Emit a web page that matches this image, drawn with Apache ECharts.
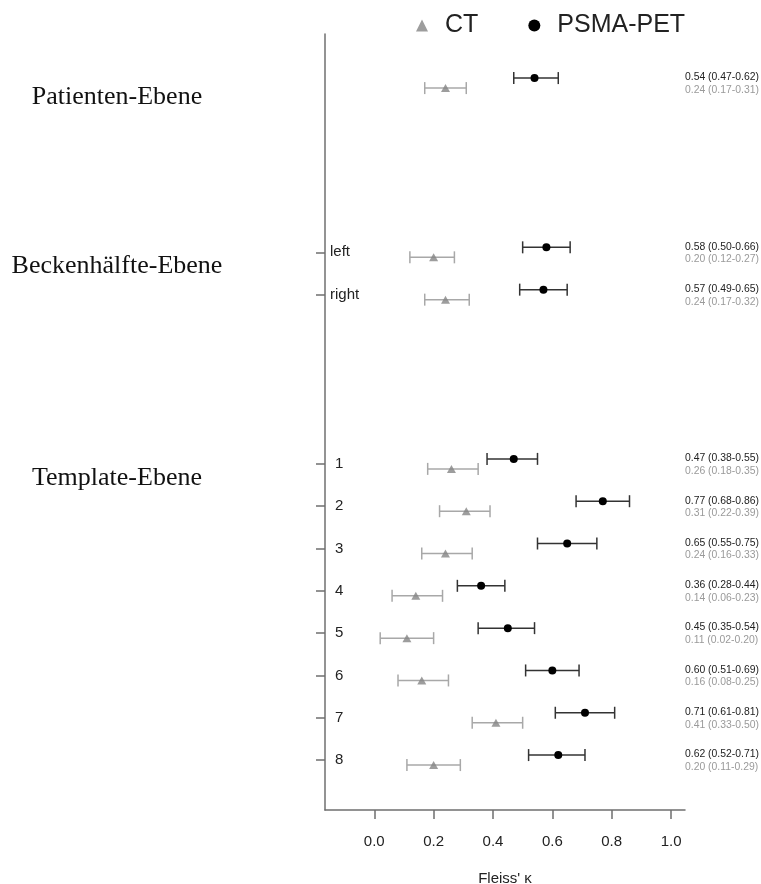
<!DOCTYPE html>
<html>
<head>
<meta charset="utf-8">
<script src="https://cdn.jsdelivr.net/npm/echarts@6/dist/echarts.min.js"></script>
<style>
html,body{margin:0;padding:0;background:#fff;}
#chart{width:761px;height:884px;}
</style>
</head>
<body>
<div id="chart"></div>
<script>
// ---- data ----
const categories = ['', 'left', 'right', '1', '2', '3', '4', '5', '6', '7', '8'];
const groups = ['Patienten-Ebene', 'Beckenhälfte-Ebene', 'Template-Ebene'];
const groupOf = [0, 1, 1, 2, 2, 2, 2, 2, 2, 2, 2];
const psmaKappa = [0.54, 0.58, 0.57, 0.47, 0.77, 0.65, 0.36, 0.45, 0.60, 0.71, 0.62];
const psmaLow   = [0.47, 0.50, 0.49, 0.38, 0.68, 0.55, 0.28, 0.35, 0.51, 0.61, 0.52];
const psmaHigh  = [0.62, 0.66, 0.65, 0.55, 0.86, 0.75, 0.44, 0.54, 0.69, 0.81, 0.71];
const ctKappa   = [0.24, 0.20, 0.24, 0.26, 0.31, 0.24, 0.14, 0.11, 0.16, 0.41, 0.20];
const ctLow     = [0.17, 0.12, 0.17, 0.18, 0.22, 0.16, 0.06, 0.02, 0.08, 0.33, 0.11];
const ctHigh    = [0.31, 0.27, 0.32, 0.35, 0.39, 0.33, 0.23, 0.20, 0.25, 0.50, 0.29];
const xTicks = [0.0, 0.2, 0.4, 0.6, 0.8, 1.0];
const xName = "Fleiss' \u03BA";

// ---- structure: slot index per row (groups separated by 3 empty rows) ----
const GAP = 3;
const slots = categories.map((c, i) => i + GAP * groupOf[i]);
const labelBySlot = {};
slots.forEach((s, i) => { labelBySlot[s] = categories[i]; });
const labelSlots = slots.filter((s, i) => categories[i] !== '');
const groupFirstSlot = groups.map((g, gi) => slots[groupOf.indexOf(gi)]);

const SANS = 'Liberation Sans, Arial, Helvetica, sans-serif';
const SERIF = 'Liberation Serif, Times New Roman, serif';
const PSMA_COLOR = '#000000', PSMA_BAR = '#333333';
const CT_COLOR = '#858585', CT_BAR = '#a8a8a8';
const AXIS_COLOR = '#6f6f6f';
const PSMA_DY = -5, CT_DY = 5;

function errorBar(dy, color) {
  return function (params, api) {
    const slot = api.value(0), lo = api.value(1), hi = api.value(2);
    const a = api.coord([lo, slot]), b = api.coord([hi, slot]);
    const y = a[1] + dy;
    const st = { stroke: color, lineWidth: 1.5 };
    return {
      type: 'group', children: [
        { type: 'line', shape: { x1: a[0], y1: y, x2: b[0], y2: y }, style: st },
        { type: 'line', shape: { x1: a[0], y1: y - 6, x2: a[0], y2: y + 6 }, style: st },
        { type: 'line', shape: { x1: b[0], y1: y - 6, x2: b[0], y2: y + 6 }, style: st }
      ]
    };
  };
}

const fmt = (e, l, h) => e.toFixed(2) + ' (' + l.toFixed(2) + '-' + h.toFixed(2) + ')';

const chart = echarts.init(document.getElementById('chart'));
chart.setOption({
  animation: false,
  backgroundColor: '#fff',
  grid: { left: 325, right: 76, top: 34, bottom: 74, containLabel: false, outerBoundsMode: 'none' },
  legend: {
    data: ['CT', 'PSMA-PET'],
    left: 416, top: 13, padding: 0,
    itemWidth: 12, itemHeight: 12, itemGap: 50,
    textStyle: { fontFamily: SANS, fontSize: 25, color: '#222', padding: [0, 0, 0, 12] }
  },
  xAxis: {
    type: 'value', min: -0.166, max: 1.047,
    name: xName, nameLocation: 'middle', nameGap: 61,
    nameTextStyle: { fontFamily: SANS, fontSize: 15, color: '#222' },
    axisLine: { show: true, onZero: false, lineStyle: { color: AXIS_COLOR, width: 1.5 } },
    axisTick: { show: true, customValues: xTicks, length: 9, lineStyle: { color: AXIS_COLOR, width: 1.5 } },
    axisLabel: { customValues: xTicks, formatter: v => Number(v).toFixed(1), margin: 24,
      fontFamily: SANS, fontSize: 15, color: '#222' },
    splitLine: { show: false }
  },
  yAxis: {
    type: 'value', inverse: true, min: -1.16, max: 17.18,
    axisLine: { show: true, onZero: false, lineStyle: { color: AXIS_COLOR, width: 1.5 } },
    axisTick: { show: true, customValues: labelSlots, length: 9, inside: false,
      lineStyle: { color: AXIS_COLOR, width: 1.5 } },
    axisLabel: {
      customValues: labelSlots, inside: true, margin: 5,
      formatter: v => {
        const t = labelBySlot[v] || '';
        return /^\d+$/.test(t) ? '{n|' + t + '}' : '{w|' + t + '}';
      },
      rich: {
        n: { fontFamily: SANS, fontSize: 15, color: '#222', padding: [0, 0, 0, 5] },
        w: { fontFamily: SANS, fontSize: 15, color: '#222' }
      }
    },
    splitLine: { show: false }
  },
  series: [
    {
      name: 'CT-err', type: 'custom', renderItem: errorBar(CT_DY, CT_BAR),
      encode: { x: [1, 2], y: 0 }, z: 2, silent: true,
      data: slots.map((s, i) => [s, ctLow[i], ctHigh[i]])
    },
    {
      name: 'PSMA-err', type: 'custom', renderItem: errorBar(PSMA_DY, PSMA_BAR),
      encode: { x: [1, 2], y: 0 }, z: 2, silent: true,
      data: slots.map((s, i) => [s, psmaLow[i], psmaHigh[i]])
    },
    {
      name: 'CT', type: 'scatter', symbol: 'triangle', symbolSize: [9, 8],
      symbolOffset: [0, CT_DY], itemStyle: { color: CT_COLOR }, z: 5,
      data: slots.map((s, i) => [ctKappa[i], s])
    },
    {
      name: 'PSMA-PET', type: 'scatter', symbol: 'circle', symbolSize: 8,
      symbolOffset: [0, PSMA_DY], itemStyle: { color: PSMA_COLOR, opacity: 1 }, z: 5,
      data: slots.map((s, i) => [psmaKappa[i], s])
    },
    {
      name: 'annotations', type: 'custom', silent: true, z: 6,
      encode: { x: 1, y: 0 },
      data: slots.map((s, i) => [s, psmaKappa[i], i]),
      renderItem: function (params, api) {
        const i = api.value(2), slot = api.value(0);
        const y = api.coord([0, slot])[1];
        const x = params.coordSys.x + params.coordSys.width;
        return {
          type: 'group', children: [
            { type: 'text', style: { x: x, y: y - 5.5, text: fmt(psmaKappa[i], psmaLow[i], psmaHigh[i]),
              fill: '#222', font: '10.4px ' + SANS, textAlign: 'left', textVerticalAlign: 'middle' } },
            { type: 'text', style: { x: x, y: y + 7, text: fmt(ctKappa[i], ctLow[i], ctHigh[i]),
              fill: '#9a9a9a', font: '10.4px ' + SANS, textAlign: 'left', textVerticalAlign: 'middle' } }
          ]
        };
      }
    },
    {
      name: 'groups', type: 'custom', silent: true, z: 6,
      encode: { x: 1, y: 0 },
      data: groups.map((g, gi) => [groupFirstSlot[gi], 0, gi]),
      renderItem: function (params, api) {
        const gi = api.value(2);
        const y = api.coord([0, api.value(0)])[1];
        return { type: 'text', style: { x: 117, y: y + 14, text: groups[gi], fill: '#111',
          font: '26px ' + SERIF, textAlign: 'center', textVerticalAlign: 'middle' } };
      }
    }
  ]
});
</script>
</body>
</html>
